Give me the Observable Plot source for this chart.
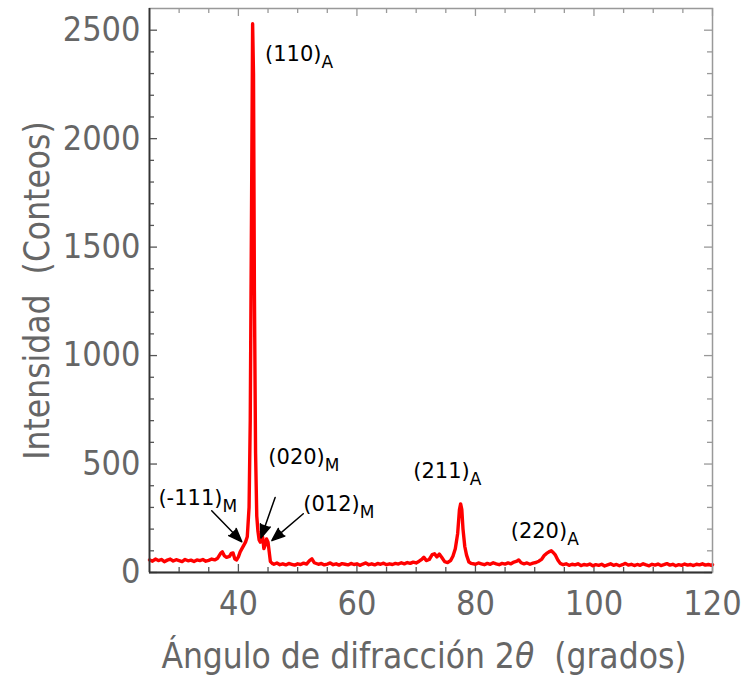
<!DOCTYPE html>
<html>
<head>
<meta charset="utf-8">
<script src="https://cdn.jsdelivr.net/npm/d3@7"></script>
<script src="https://cdn.jsdelivr.net/npm/@observablehq/plot@0.6"></script>
<style>
  html, body { margin: 0; padding: 0; background: #fff; }
</style>
</head>
<body>
<div id="chart"></div>
<script>
// ---- Data ----
const angle = [
  25,25.5,26,26.5,27,27.5,28,28.5,29,29.5,30,30.5,31,31.5,32,32.5,33,33.5,34,34.5,35,35.5,36,36.5,
  37,37.3,37.6,38,38.5,38.8,39.1,39.4,39.7,40,40.3,40.6,40.9,41.2,41.5,41.8,42.0,42.2,42.4,42.55,42.7,42.9,
  43.1,43.3,43.5,43.7,43.9,44.1,44.3,44.5,44.75,45.0,45.2,45.4,45.7,46,46.5,47,47.5,48,48.5,49,49.5,50,50.5,
  51,51.5,52,52.4,52.8,53.5,54,54.5,55,55.5,56,56.5,57,57.5,58,58.5,59,59.5,60,60.5,61,61.5,62,62.5,63,63.5,
  64,64.5,65,65.5,66,66.5,67,67.5,68,68.5,69,69.5,70,70.5,71,71.3,71.7,72.2,72.7,73.1,73.5,73.9,74.3,74.8,
  75.3,75.8,76.2,76.6,77.0,77.3,77.5,77.7,77.9,78.2,78.5,78.9,79.3,80,80.5,81,81.5,82,82.5,83,83.5,84,84.5,
  85,85.5,86,86.5,87,87.3,87.7,88.2,88.7,89.2,89.7,90.2,90.7,91.2,91.6,92.0,92.4,92.8,93.2,93.5,93.9,94.3,
  94.8,95.3,95.8,96.3,96.8,97.3,97.8,98.3,98.8,99.3,99.8,100.3,100.8,101.3,101.8,102.3,102.8,103.3,103.8,
  104.3,104.8,105.3,105.8,106.3,106.8,107.3,107.8,108.3,108.8,109.3,109.8,110.3,110.8,111.3,111.8,112.3,
  112.8,113.3,113.8,114.3,114.8,115.3,115.8,116.3,116.8,117.3,117.8,118.3,118.8,119.3,119.8,120
];
const intensity = [
  58,52,62,55,60,50,57,62,53,59,55,50,60,54,57,51,58,55,60,52,56,62,58,66,
  88,95,78,70,74,88,90,62,58,72,95,110,125,140,165,300,700,1600,2530,2300,1300,550,
  260,190,150,140,160,162,110,125,155,140,95,50,42,38,44,36,40,35,42,38,34,40,37,
  43,39,55,63,45,38,42,35,39,44,36,40,34,41,38,35,42,37,40,33,39,44,36,40,35,42,
  38,43,36,40,37,42,39,45,40,46,42,48,44,52,62,70,55,60,82,86,72,85,70,50,
  46,55,75,110,180,290,316,290,200,120,80,48,42,38,44,40,36,42,38,45,40,36,42,
  39,44,40,48,52,58,45,40,44,38,43,46,52,62,78,88,95,100,90,80,58,42,
  36,40,33,38,35,40,32,37,34,39,31,36,33,38,30,35,40,33,37,
  31,36,42,34,38,32,37,33,40,35,31,38,34,39,32,36,41,
  34,38,31,36,33,39,34,37,32,38,35,40,34,37,33,36
];
const xMajor = [40, 60, 80, 100, 120];
const yMajor = [0, 500, 1000, 1500, 2000, 2500];
const xMinor = d3.range(30, 120, 5).filter(v => !xMajor.includes(v));
const yMinor = d3.range(100, 2600, 100).filter(v => !yMajor.includes(v));

// Peak labels (text, subscript phase, anchor position in data units)
const peakLabel = ["(110)", "(020)", "(-111)", "(012)", "(211)", "(220)"];
const peakPhase = ["A", "M", "M", "M", "A", "A"];
const labelX = [44.5, 45.05, 26.5, 50.95, 69.5, 85.95];
const labelY = [2390, 530, 342, 314, 465, 192];

// Arrows pointing to martensite reflections (start -> tip, data units)
const arrowX1 = [35.5, 46.2, 50.95];
const arrowY1 = [285, 346, 271];
const arrowX2 = [40.58, 43.8, 45.64];
const arrowY2 = [142, 159, 147];

const xTitle = "Ángulo de difracción 2θ \u00a0(grados)";
const yTitle = "Intensidad \u00a0(Conteos)";

// ---- Build tables ----
const pattern = angle.map((a, i) => ({angle: a, counts: intensity[i]}));
const labels = peakLabel.map((t, i) => ({text: t + "_" + peakPhase[i], x: labelX[i], y: labelY[i]}));
const arrows = arrowX1.map((x, i) => ({x1: x, y1: arrowY1[i], x2: arrowX2[i], y2: arrowY2[i]}));

const FONT = "'DejaVu Sans Condensed', 'DejaVu Sans', sans-serif";
const FH = 564, FW = 563; // frame height / width in px (from margins below)

const chart = Plot.plot({
  width: 744,
  height: 680,
  marginLeft: 149,
  marginRight: 32,
  marginTop: 8,
  marginBottom: 108,
  style: {fontFamily: FONT, background: "white"},
  x: {domain: [25, 120]},
  y: {domain: [0, 2600]},
  marks: [
    // frame ticks (inward)
    Plot.tickX(xMajor, {x: d => d, insetTop: FH - 8, stroke: "#555", strokeWidth: 1.3}),
    Plot.tickX(xMinor, {x: d => d, insetTop: FH - 5, stroke: "#555", strokeWidth: 1.3}),
    Plot.tickX(xMajor, {x: d => d, insetBottom: FH - 8, stroke: "#999", strokeWidth: 1.3}),
    Plot.tickX(xMinor, {x: d => d, insetBottom: FH - 5, stroke: "#999", strokeWidth: 1.3}),
    Plot.tickY(yMajor, {y: d => d, insetRight: FW - 8, stroke: "#555", strokeWidth: 1.3}),
    Plot.tickY(yMinor, {y: d => d, insetRight: FW - 5, stroke: "#555", strokeWidth: 1.3}),
    Plot.tickY(yMajor, {y: d => d, insetLeft: FW - 8, stroke: "#999", strokeWidth: 1.3}),
    Plot.tickY(yMinor, {y: d => d, insetLeft: FW - 5, stroke: "#999", strokeWidth: 1.3}),
    // data
    Plot.line(pattern, {x: "angle", y: "counts", stroke: "#ff0000", strokeWidth: 3.4}),
    // frame
    Plot.frame({stroke: "#999", strokeWidth: 1.5}),
    Plot.ruleX([25], {stroke: "#333", strokeWidth: 1.8}),
    Plot.ruleY([0], {stroke: "#333", strokeWidth: 1.8}),
    // axes labels
    Plot.axisX({ticks: xMajor, tickSize: 0, tickPadding: 18, fontSize: 34, fill: "#666", label: null, tickFormat: d => String(d)}),
    Plot.axisY({ticks: yMajor, tickSize: 0, tickPadding: 9, fontSize: 34, fill: "#666", label: null, tickFormat: d => String(d)}),
    // titles
    Plot.text([xTitle], {text: d => d, frameAnchor: "bottom", textAnchor: "middle", dx: -7, dy: 95, fontSize: 35, fill: "#666"}),
    Plot.text([yTitle], {text: d => d, frameAnchor: "left", textAnchor: "middle", rotate: -90, dx: -112, fontSize: 35, fill: "#666"}),
    // annotations
    Plot.arrow(arrows, {x1: "x1", y1: "y1", x2: "x2", y2: "y2", stroke: "black", fill: "black", strokeWidth: 1.5, headLength: 15, headAngle: 42}),
    Plot.text(labels, {x: "x", y: "y", text: "text", textAnchor: "start", lineAnchor: "middle", fontSize: 21, fill: "black", fontFamily: "'DejaVu Sans', sans-serif"})
  ]
});

// Rich text: subscripts and italic theta
const NS = "http://www.w3.org/2000/svg";
chart.querySelectorAll("text").forEach(t => {
  const s = t.textContent;
  if (s.includes("_")) {
    const [main, sub] = s.split("_");
    t.textContent = main;
    const ts = document.createElementNS(NS, "tspan");
    ts.setAttribute("font-size", "17");
    ts.setAttribute("dy", "7");
    ts.textContent = sub;
    t.appendChild(ts);
  } else if (s.includes("θ")) {
    const [a, b] = s.split("θ");
    t.textContent = a;
    const ts = document.createElementNS(NS, "tspan");
    ts.setAttribute("font-style", "italic");
    ts.textContent = "θ";
    t.appendChild(ts);
    t.appendChild(document.createTextNode(b));
  }
});

document.getElementById("chart").appendChild(chart);
</script>
</body>
</html>
